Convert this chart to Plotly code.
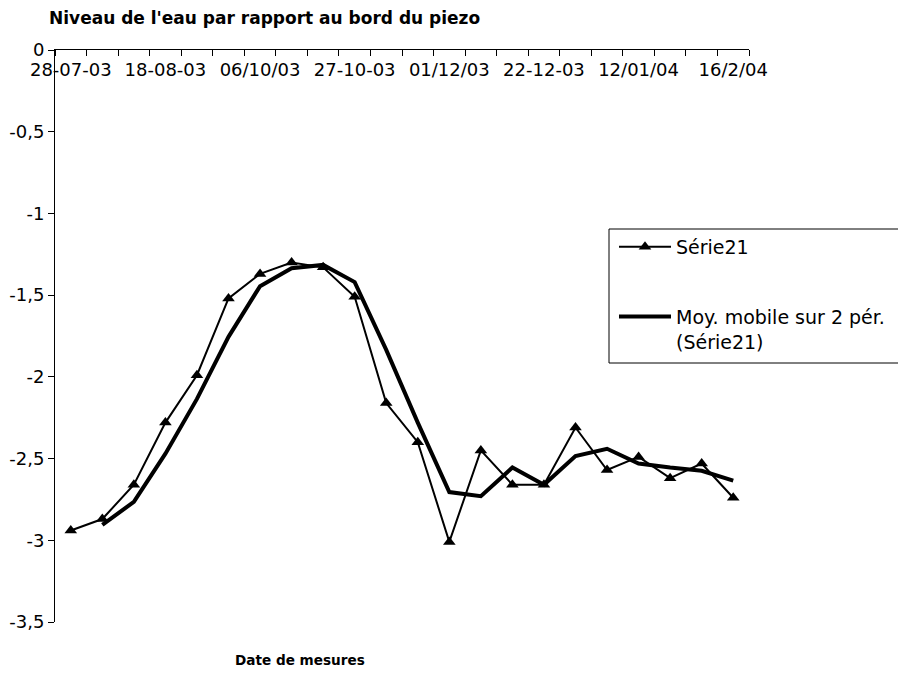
import plotly.graph_objects as go

# Category positions (22 measurements) and the dates labelled on the axis
n_points = 22
label_positions = [0, 3, 6, 9, 12, 15, 18, 21]
label_texts = ["28-07-03", "18-08-03", "06/10/03", "27-10-03",
               "01/12/03", "22-12-03", "12/01/04", "16/2/04"]

# Série21 : niveau de l'eau (m)
serie21 = [-2.94, -2.87, -2.66, -2.28, -1.99, -1.52, -1.37, -1.30, -1.33, -1.51,
           -2.16, -2.40, -3.01, -2.45, -2.66, -2.66, -2.31, -2.57, -2.49, -2.62,
           -2.53, -2.74]

# Moyenne mobile sur 2 périodes (starts at the 2nd point)
moy_mobile = [-2.905, -2.765, -2.47, -2.135, -1.755, -1.445, -1.335, -1.315, -1.42,
              -1.835, -2.28, -2.705, -2.73, -2.555, -2.66, -2.485, -2.44, -2.53,
              -2.555, -2.575, -2.635]

y_tickvals = [0, -0.5, -1, -1.5, -2, -2.5, -3, -3.5]
y_ticktext = ["0", "-0,5", "-1", "-1,5", "-2", "-2,5", "-3", "-3,5"]

x_all = list(range(n_points))
x_ma = x_all[1:]

FONT = "DejaVu Sans"

fig = go.Figure()
fig.add_trace(go.Scatter(
    x=x_all, y=serie21, mode="lines+markers", name="Série21",
    line=dict(color="black", width=2),
    marker=dict(symbol="triangle-up", size=11, color="black"),
    legendgroup="a",
))
fig.add_trace(go.Scatter(
    x=x_ma, y=moy_mobile, mode="lines",
    name="Moy. mobile sur 2 pér.<br>(Série21)",
    line=dict(color="black", width=4),
    legendgroup="b",
))

# the page body adds an 8px offset, so the figure is sized/placed to compensate
OFF = 8
W, H = 906 - OFF, 679 - OFF
# plot area in page pixels: x 55..749, y 50..622
L = 55 - OFF
T = 50 - OFF
R = W - (749 - OFF)
B = H - (622 - OFF)
pw, ph = W - L - R, H - T - B


def px(xp):
    return (xp - OFF - L) / pw


def py(yp):
    return (H - B - (yp - OFF)) / ph


fig.update_layout(
    width=W, height=H,
    margin=dict(l=L, r=R, t=T, b=B, autoexpand=False),
    paper_bgcolor="white", plot_bgcolor="white",
    font=dict(family=FONT, size=17, color="black"),
    showlegend=True,
    legend=dict(
        x=px(614), y=py(228), xanchor="left", yanchor="top",
        bgcolor="rgba(0,0,0,0)", borderwidth=0,
        font=dict(family=FONT, size=19, color="black"),
        tracegroupgap=42, valign="top", itemwidth=52,
    ),
    xaxis=dict(
        range=[-0.5, n_points - 0.5], side="top", automargin=False,
        showline=True, linecolor="black", linewidth=1,
        showgrid=False, zeroline=False,
        tickmode="array", tickvals=label_positions, ticktext=label_texts,
        ticks="", ticklabelposition="inside", ticklabeloverflow="allow",
        ticklabelstandoff=14,
        tickfont=dict(family=FONT, size=18, color="black"),
        minor=dict(tickmode="linear", tick0=-0.5, dtick=1, ticks="inside",
                   ticklen=6, tickcolor="black", showgrid=False),
    ),
    yaxis=dict(
        range=[-3.5, 0], automargin=False,
        showline=True, linecolor="black", linewidth=1,
        showgrid=False, zeroline=False,
        tickmode="array", tickvals=y_tickvals, ticktext=y_ticktext,
        ticks="outside", ticklen=6, tickcolor="black",
        tickfont=dict(family=FONT, size=18, color="black"),
    ),
    shapes=[dict(
        type="rect", xref="paper", yref="paper",
        x0=px(609), x1=px(902), y0=py(363), y1=py(229),
        line=dict(color="black", width=1), fillcolor="rgba(0,0,0,0)",
    )],
    annotations=[
        dict(text="<b>Niveau de l'eau par rapport au bord du piezo</b>",
             xref="paper", yref="paper", x=px(47), y=py(18),
             xanchor="left", yanchor="middle", showarrow=False,
             font=dict(family=FONT, size=17, color="black")),
        dict(text="<b>Date de mesures</b>",
             xref="paper", yref="paper", x=px(300), y=py(660),
             xanchor="center", yanchor="middle", showarrow=False,
             font=dict(family=FONT, size=13.6, color="black")),
    ],
)

fig.write_html("out.html")
